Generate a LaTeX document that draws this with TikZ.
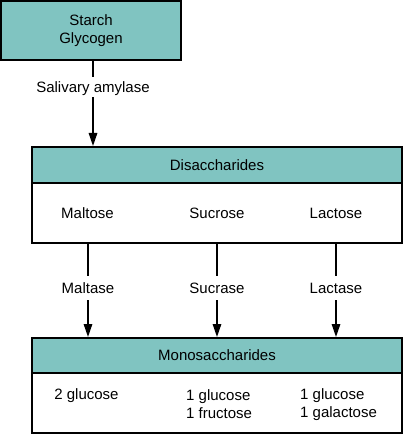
\documentclass[tikz,border=0pt]{standalone}
\usepackage{fontspec}
\setmainfont{Liberation Sans}
\usetikzlibrary{arrows.meta}
\definecolor{teal1}{RGB}{128,196,193}
\begin{document}
\begin{tikzpicture}[x=1pt,y=-1pt,
  every node/.style={font=\fontsize{15}{18}\selectfont},
  boxhead/.style={draw=black,line width=2pt,fill=teal1,inner sep=0pt},
  boxbody/.style={draw=black,line width=2pt,fill=white,inner sep=0pt},
  txt/.style={inner sep=0pt},
  lbl/.style={inner sep=0pt,text height=10.5pt,text depth=0pt},
  conn/.style={line width=1.4pt},
  arr/.style={line width=1.4pt,-{Triangle[width=8.5pt,length=13pt]}}]
\useasboundingbox (0,0) rectangle (407,443);
% top box
\node[boxhead,minimum width=180pt,minimum height=59pt,align=center] (top) at (91,30.5) {Starch\\Glycogen};
% disaccharides
\node[boxbody,minimum width=370pt,minimum height=60pt] (dbody) at (217,213) {};
\node[boxhead,minimum width=370pt,minimum height=36pt] (dhead) at (217,165) {Disaccharides};
\node[txt] (malt) at (87.5,213) {Maltose};
\node[txt] (sucr) at (217,213) {Sucrose};
\node[txt] (lact) at (336,213) {Lactose};
% monosaccharides
\node[boxbody,minimum width=370pt,minimum height=60pt] (mbody) at (217,403) {};
\node[boxhead,minimum width=370pt,minimum height=35pt] (mhead) at (217,355.5) {Monosaccharides};
\node[txt] (m1) at (86.5,395.5) {2 glucose};
\node[txt,anchor=west,align=left] (m2) at (186,404.5) {1 glucose\\1 fructose};
\node[txt,anchor=west,align=left] (m3) at (300,404.5) {1 glucose\\1 galactose};
% labels
\node[lbl,minimum height=20pt] (sal) at (93,87) {Salivary amylase};
\node[lbl,minimum height=24pt] (e1) at (88,288) {Maltase};
\node[lbl,minimum height=24pt] (e2) at (217,288) {Sucrase};
\node[lbl,minimum height=24pt] (e3) at (336,288) {Lactase};
% connectors
\draw[conn] (top.south -| sal) -- (sal.north);
\draw[arr] (sal.south) -- (dhead.north -| sal);
\draw[conn] (dbody.south -| e1) -- (e1.north);
\draw[arr] (e1.south) -- (mhead.north -| e1);
\draw[conn] (dbody.south -| e2) -- (e2.north);
\draw[arr] (e2.south) -- (mhead.north -| e2);
\draw[conn] (dbody.south -| e3) -- (e3.north);
\draw[arr] (e3.south) -- (mhead.north -| e3);
\end{tikzpicture}
\end{document}
